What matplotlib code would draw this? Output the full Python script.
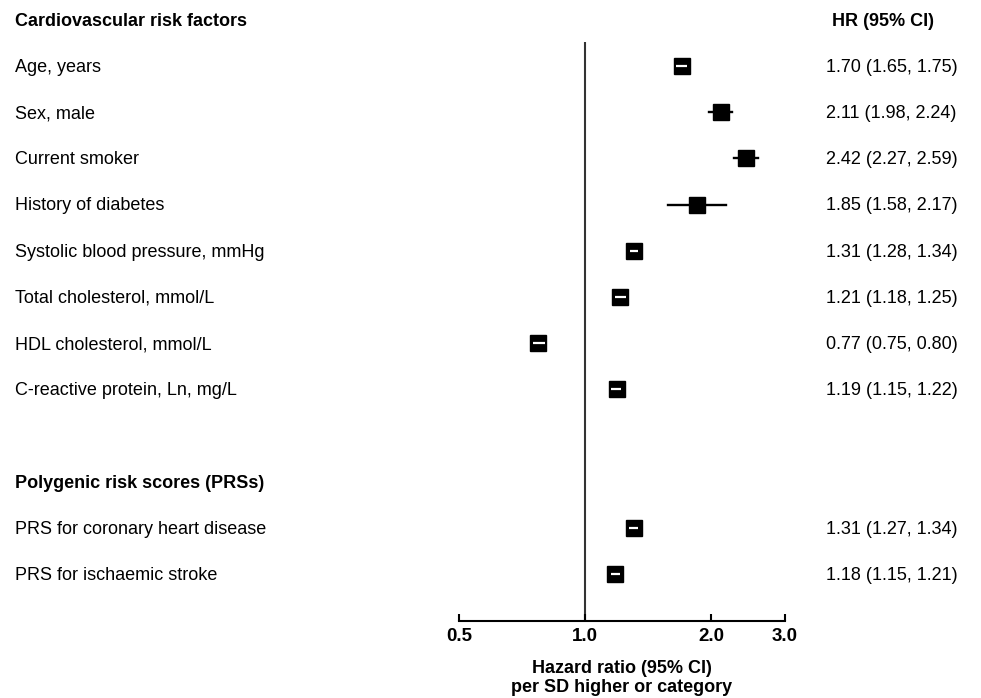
import matplotlib
matplotlib.use("Agg")
from matplotlib import pyplot as plt
from matplotlib.transforms import blended_transform_factory

plt.rcParams['font.family'] = ['Liberation Sans', 'DejaVu Sans']

labels = ["Age, years", "Sex, male", "Current smoker", "History of diabetes",
          "Systolic blood pressure, mmHg", "Total cholesterol, mmol/L",
          "HDL cholesterol, mmol/L", "C-reactive protein, Ln, mg/L",
          "PRS for coronary heart disease", "PRS for ischaemic stroke"]
rows = [0, 1, 2, 3, 4, 5, 6, 7, 10, 11]
hr = [1.70, 2.11, 2.42, 1.85, 1.31, 1.21, 0.77, 1.19, 1.31, 1.18]
lo = [1.65, 1.98, 2.27, 1.58, 1.28, 1.18, 0.75, 1.15, 1.27, 1.15]
hi = [1.75, 2.24, 2.59, 2.17, 1.34, 1.25, 0.80, 1.22, 1.34, 1.21]
headers = ["Cardiovascular risk factors", "Polygenic risk scores (PRSs)"]
header_rows = [-1, 9]
xticks = [0.5, 1.0, 2.0, 3.0]
xticklabels = ["0.5", "1.0", "2.0", "3.0"]

fig = plt.figure(figsize=(9.81, 6.98), dpi=100)
ax = fig.add_axes([459 / 981, 1 - 621 / 698, (785 - 459) / 981, (621 - 42) / 698])
ax.set_xscale('log')
ax.set_xlim(0.5, 3.0)
ax.set_ylim((621 - 66) / 46.2, (42 - 66) / 46.2)

ax.axvline(1.0, color='#333333', lw=1.5, zorder=1)

for r, h, l, u in zip(rows, hr, lo, hi):
    ax.plot([l, u], [r, r], color='black', lw=1.7, zorder=2)
    ax.plot([h], [r], marker='s', color='black', markersize=11.5, zorder=3)
    if u / l < 1.1:
        # CI sits inside the box: shown as a white stroke
        ax.plot([l, u], [r, r], color='white', lw=1.6, zorder=4,
                solid_capstyle='butt')

for s in ['top', 'right', 'left']:
    ax.spines[s].set_visible(False)
ax.spines['bottom'].set_linewidth(1.5)
ax.set_yticks([])
ax.set_xticks(xticks)
ax.set_xticklabels(xticklabels, fontsize=13.5, fontweight='bold')
ax.minorticks_off()
ax.tick_params(axis='x', direction='in', length=5, width=1.5, pad=5)
ax.set_xlabel("Hazard ratio (95% CI)\nper SD higher or category",
              fontsize=13, fontweight='bold', labelpad=11, linespacing=1.1)

tr = blended_transform_factory(fig.transFigure, ax.transData)
for lab, r in zip(labels, rows):
    ax.text(15 / 981, r + 0.03, lab, transform=tr, fontsize=13, va='center', clip_on=False)
for h, l, u, r in zip(hr, lo, hi, rows):
    ax.text(826 / 981, r + 0.03, "%.2f (%.2f, %.2f)" % (h, l, u), transform=tr,
            fontsize=13, va='center', clip_on=False)
for hd, r in zip(headers, header_rows):
    ax.text(15 / 981, r + 0.03, hd, transform=tr, fontsize=13, fontweight='bold',
            va='center', clip_on=False)
ax.text(832 / 981, -0.97, "HR (95% CI)", transform=tr, fontsize=13,
        fontweight='bold', va='center', clip_on=False)

fig.savefig("out.png", dpi=100)
